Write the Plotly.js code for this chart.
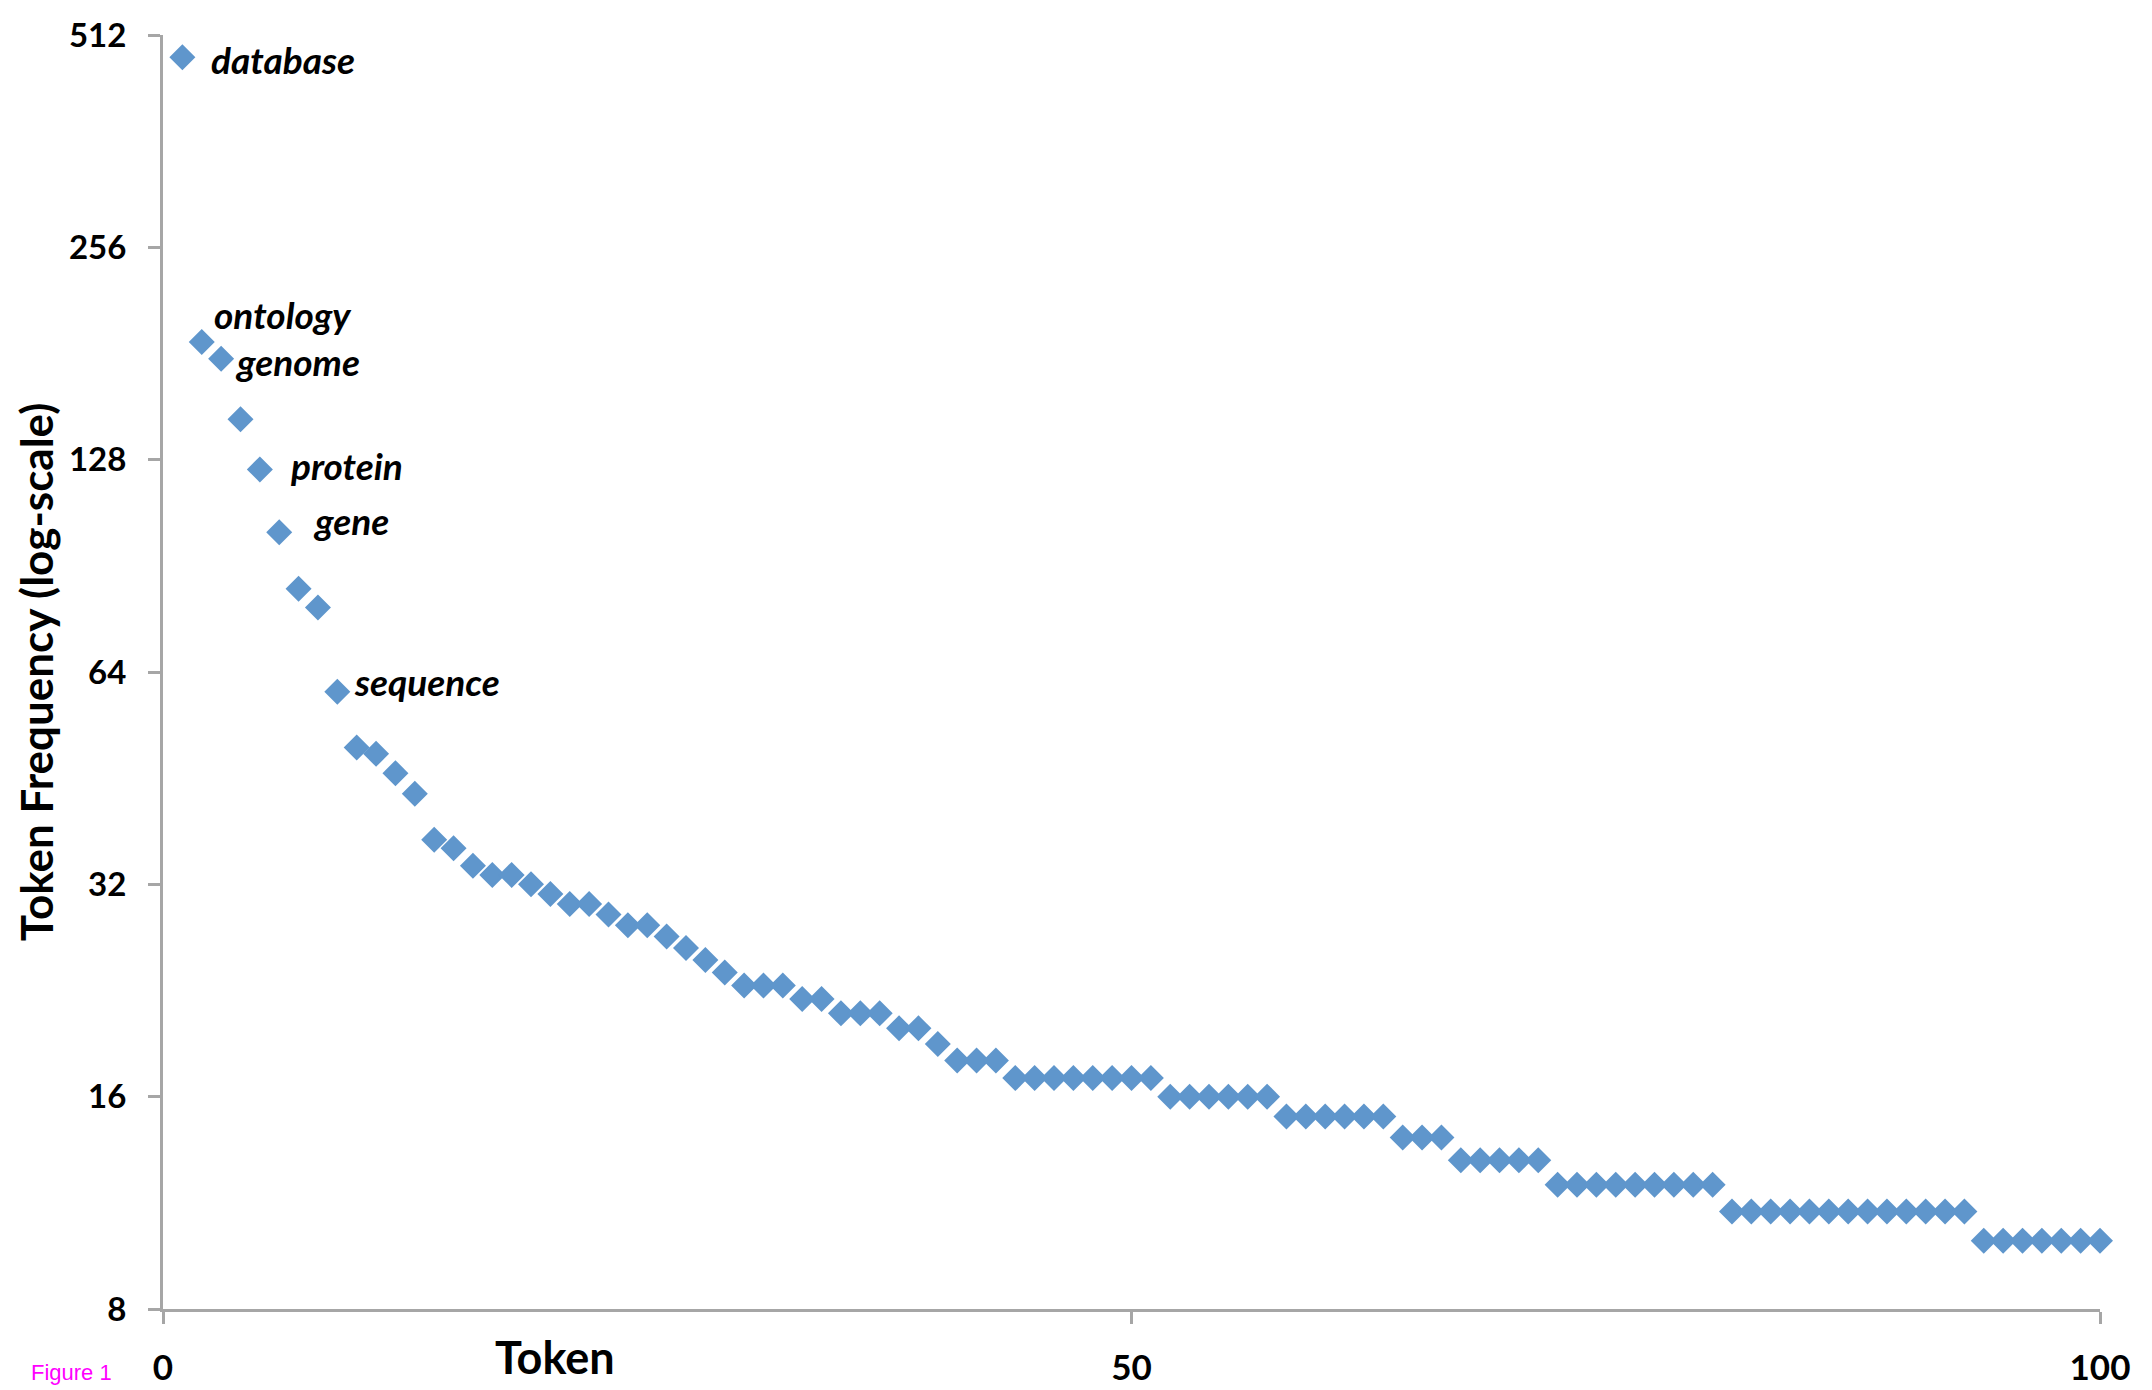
<!DOCTYPE html>
<html>
<head>
<meta charset="utf-8">
<script src="https://cdn.plot.ly/plotly-3.0.1.min.js"></script>
<style>
  html, body { margin: 0; padding: 0; background: #ffffff; }
  #chart { width: 2152px; height: 1390px; }
</style>
</head>
<body>
<div id="chart"></div>
<script>
// Token rank (1..100)
const ranks = Array.from({length: 100}, (_, i) => i + 1);

// Token frequency (log-scale y axis)
const frequencies = [
  476, 188, 178, 146, 124, 101, 84, 79, 60, 50,
  49, 46, 43, 37, 36, 34, 33, 33, 32, 31,
  30, 30, 29, 28, 28, 27, 26, 25, 24, 23,
  23, 23, 22, 22, 21, 21, 21, 20, 20, 19,
  18, 18, 18, 17, 17, 17, 17, 17, 17, 17,
  17, 16, 16, 16, 16, 16, 16, 15, 15, 15,
  15, 15, 15, 14, 14, 14, 13, 13, 13, 13,
  13, 12, 12, 12, 12, 12, 12, 12, 12, 12,
  11, 11, 11, 11, 11, 11, 11, 11, 11, 11,
  11, 11, 11, 10, 10, 10, 10, 10, 10, 10
];

// Labelled tokens and the rank they belong to
const labelTokens = ['database', 'ontology', 'genome', 'protein', 'gene', 'sequence'];
const labelRanks  = [1, 2, 3, 5, 6, 9];

// Axis ticks
const yTickVals = [8, 16, 32, 64, 128, 256, 512];
const yTickText = ['8', '16', '32', '64', '128', '256', '512'];
const xTickVals = [0, 50, 100];
const xTickText = ['0', '50', '100'];

// Label pixel offsets relative to their point (styling, not data)
const labelOffsets = [
  [27, -2], [10, 27], [12, -3], [28, 4], [32, 12], [15, 10]
];

const FONT = "Lato, 'Open Sans', 'DejaVu Sans', sans-serif";

const trace = {
  type: 'scatter',
  mode: 'markers',
  x: ranks,
  y: frequencies,
  cliponaxis: false,
  hoverinfo: 'x+y',
  marker: {
    symbol: 'diamond',
    size: 20,
    color: '#5f96cc',
    line: { width: 0 }
  },
  showlegend: false
};

const annotations = labelTokens.map((t, i) => ({
  text: t,
  x: labelRanks[i],
  y: Math.log10(frequencies[labelRanks[i] - 1]),
  xref: 'x',
  yref: 'y',
  xanchor: 'left',
  yanchor: 'middle',
  xshift: labelOffsets[i][0],
  yshift: labelOffsets[i][1],
  showarrow: false,
  font: { family: FONT, size: 37, color: '#000000', weight: 'bold', style: 'italic' }
}));

annotations.push({
  text: 'Token',
  xref: 'paper', yref: 'paper',
  x: 0.1705, y: -0.0377,
  xanchor: 'left', yanchor: 'middle',
  showarrow: false,
  font: { family: FONT, size: 45, color: '#000000', weight: 'bold' }
});

annotations.push({
  text: 'Figure 1',
  xref: 'paper', yref: 'paper',
  x: -0.0692, y: -0.0502,
  xanchor: 'left', yanchor: 'middle',
  showarrow: false,
  font: { family: "'Liberation Sans', Arial, sans-serif", size: 22, color: '#ff00ff' }
});

const layout = {
  width: 2152,
  height: 1390,
  paper_bgcolor: '#ffffff',
  plot_bgcolor: '#ffffff',
  margin: { l: 163, r: 52, t: 35, b: 81, pad: 0 },
  showlegend: false,
  xaxis: {
    range: [0, 100],
    tickmode: 'array',
    tickvals: xTickVals,
    ticktext: xTickText,
    showgrid: false,
    zeroline: false,
    showline: true,
    linecolor: '#a6a6a6',
    linewidth: 3,
    ticks: 'outside',
    ticklen: 12,
    tickwidth: 3,
    tickcolor: '#a6a6a6',
    ticklabelstandoff: 14,
    tickfont: { family: FONT, size: 35, color: '#000000', weight: 'bold' },
    fixedrange: true
  },
  yaxis: {
    type: 'log',
    range: [Math.log10(8), Math.log10(512)],
    tickmode: 'array',
    tickvals: yTickVals,
    ticktext: yTickText,
    showgrid: false,
    zeroline: false,
    showline: true,
    linecolor: '#a6a6a6',
    linewidth: 3,
    ticks: 'outside',
    ticklen: 12,
    tickwidth: 3,
    tickcolor: '#a6a6a6',
    ticklabelstandoff: 15,
    tickfont: { family: FONT, size: 33, color: '#000000', weight: 'bold' },
    title: {
      text: 'Token Frequency (log-scale)',
      font: { family: FONT, size: 44, color: '#000000', weight: 'bold' },
      standoff: 2
    },
    fixedrange: true
  },
  annotations: annotations
};

Plotly.newPlot('chart', [trace], layout, { displayModeBar: false, staticPlot: true });
</script>
</body>
</html>
